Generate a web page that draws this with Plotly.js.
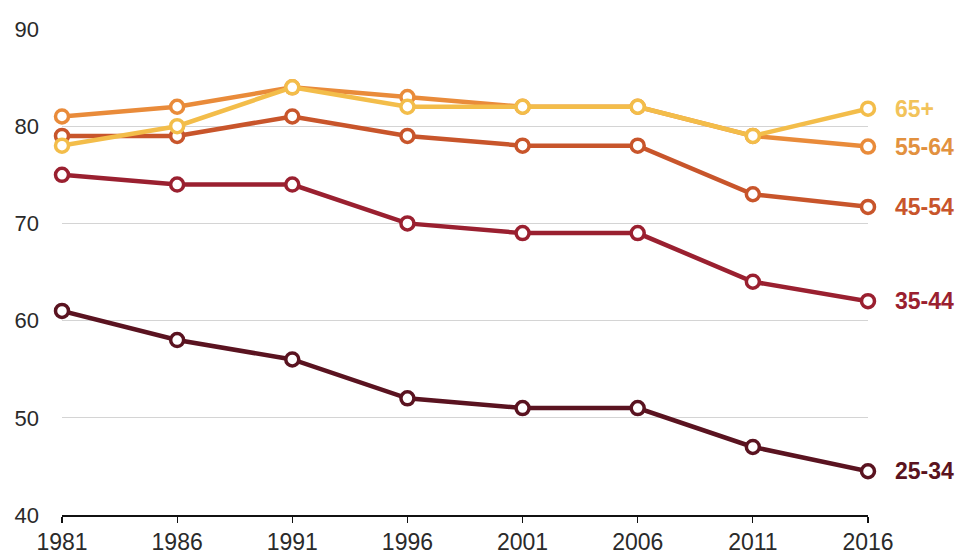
<!DOCTYPE html>
<html>
<head>
<meta charset="utf-8">
<script src="https://cdn.plot.ly/plotly-3.0.1.min.js"></script>
<style>
  html, body { margin: 0; padding: 0; background: #ffffff; }
  #chart { width: 961px; height: 554px; }
</style>
</head>
<body>
<div id="chart"></div>
<script>
// Survey years
const years = [1981, 1986, 1991, 1996, 2001, 2006, 2011, 2016];

// Rates by age group (%)
const age25to34 = [61, 58, 56, 52, 51, 51, 47, 44.5];
const age35to44 = [75, 74, 74, 70, 69, 69, 64, 62];
const age45to54 = [79, 79, 81, 79, 78, 78, 73, 71.7];
const age55to64 = [81, 82, 84, 83, 82, 82, 79, 77.9];
const age65plus = [78, 80, 84, 82, 82, 82, 79, 81.8];

const groupNames = ["25-34", "35-44", "45-54", "55-64", "65+"];
const groupValues = [age25to34, age35to44, age45to54, age55to64, age65plus];
const groupColors = ["#5a1320", "#9a2030", "#c8552b", "#e98b3a", "#f3bd4a"];
const labelColors = ["#5a1320", "#9a2030", "#c8552b", "#e2913f", "#f2c35a"];

const traces = groupNames.map((name, i) => ({
  type: "scatter",
  mode: "lines+markers",
  name: name,
  x: years,
  y: groupValues[i],
  cliponaxis: false,
  line: { color: groupColors[i], width: 4.5 },
  marker: {
    symbol: "circle",
    size: 13,
    color: "#ffffff",
    line: { color: groupColors[i], width: 3.5 }
  },
  hoverinfo: "x+y+name"
}));

// End-of-line group labels
const annotations = groupNames.map((name, i) => ({
  x: years[years.length - 1],
  y: groupValues[i][groupValues[i].length - 1],
  xref: "x",
  yref: "y",
  text: "<b>" + name + "</b>",
  showarrow: false,
  xanchor: "left",
  yanchor: "middle",
  xshift: 25,
  font: { family: "Liberation Sans, Arial, sans-serif", size: 23, color: labelColors[i] }
}));

const layout = {
  width: 961,
  height: 554,
  margin: { l: 62, r: 93, t: 29, b: 39, pad: 0 },
  paper_bgcolor: "#ffffff",
  plot_bgcolor: "#ffffff",
  showlegend: false,
  font: { family: "Liberation Sans, Arial, sans-serif", size: 22, color: "#222222" },
  xaxis: {
    range: [1981, 2016],
    tickmode: "array",
    tickvals: years,
    ticktext: years.map(String),
    showgrid: false,
    zeroline: false,
    showline: true,
    linecolor: "#111111",
    linewidth: 1.5,
    ticks: "outside",
    ticklen: 6,
    tickwidth: 1.2,
    tickcolor: "#111111",
    tickfont: { size: 23, color: "#2a2a2a" },
    fixedrange: true
  },
  yaxis: {
    range: [40, 90],
    tickmode: "array",
    tickvals: [40, 50, 60, 70, 80, 90],
    showgrid: true,
    gridcolor: "#d4d4d4",
    gridwidth: 1,
    zeroline: false,
    showline: false,
    ticks: "",
    ticklabelstandoff: 22,
    tickfont: { size: 22, color: "#2a2a2a" },
    fixedrange: true
  },
  annotations: annotations
};

Plotly.newPlot("chart", traces, layout, { displayModeBar: false, staticPlot: true });
</script>
</body>
</html>
